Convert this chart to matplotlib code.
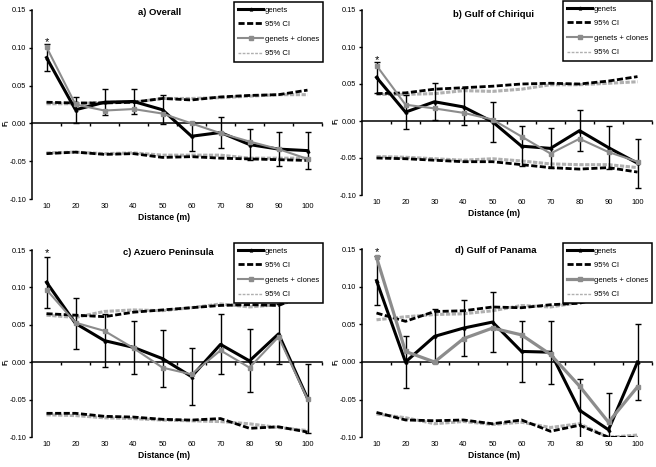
import matplotlib
matplotlib.use("Agg")
import matplotlib.pyplot as plt
from matplotlib.lines import Line2D

plt.rcParams['font.family'] = ['Liberation Sans', 'DejaVu Sans']
plt.rcParams['axes.unicode_minus'] = False
plt.rcParams['mathtext.fontset'] = 'custom'
plt.rcParams['mathtext.rm'] = 'Liberation Sans'
plt.rcParams['mathtext.bf'] = 'Liberation Sans:bold'
plt.rcParams['mathtext.it'] = 'Liberation Sans:italic'

dist = [10, 20, 30, 40, 50, 60, 70, 80, 90, 100]
legend_labels = ["genets", "95% CI", "genets + clones", "95% CI"]

# a) Overall
a_gen = [0.087, 0.018, 0.028, 0.029, 0.018, -0.017, -0.012, -0.028, -0.034, -0.036]
a_err = [0.018, 0.017, 0.017, 0.017, 0.019, 0.019, 0.021, 0.021, 0.022, 0.024]
a_clo = [0.101, 0.025, 0.017, 0.019, 0.013, 0.000, -0.013, -0.024, -0.034, -0.047]
a_ci_gen_hi = [0.028, 0.027, 0.027, 0.028, 0.033, 0.031, 0.035, 0.037, 0.038, 0.044]
a_ci_gen_lo = [-0.040, -0.038, -0.041, -0.040, -0.045, -0.044, -0.046, -0.047, -0.048, -0.049]
a_ci_clo_hi = [0.026, 0.026, 0.028, 0.028, 0.033, 0.033, 0.034, 0.036, 0.038, 0.038]
a_ci_clo_lo = [-0.039, -0.038, -0.040, -0.039, -0.042, -0.042, -0.042, -0.046, -0.046, -0.046]

# b) Gulf of Chiriqui
b_gen = [0.059, 0.012, 0.026, 0.019, -0.001, -0.034, -0.037, -0.013, -0.036, -0.057]
b_err = [0.021, 0.023, 0.025, 0.025, 0.027, 0.027, 0.027, 0.028, 0.029, 0.033]
b_clo = [0.075, 0.022, 0.017, 0.011, 0.002, -0.021, -0.044, -0.024, -0.042, -0.055]
b_ci_gen_hi = [0.037, 0.038, 0.043, 0.045, 0.047, 0.050, 0.051, 0.050, 0.054, 0.060]
b_ci_gen_lo = [-0.050, -0.051, -0.053, -0.055, -0.055, -0.059, -0.063, -0.065, -0.063, -0.069]
b_ci_clo_hi = [0.036, 0.036, 0.037, 0.041, 0.040, 0.043, 0.049, 0.049, 0.051, 0.053]
b_ci_clo_lo = [-0.048, -0.049, -0.051, -0.053, -0.051, -0.054, -0.058, -0.059, -0.059, -0.063]

# c) Azuero Peninsula
c_gen = [0.107, 0.052, 0.029, 0.020, 0.005, -0.019, 0.024, 0.002, 0.038, -0.048]
c_err = [0.034, 0.034, 0.035, 0.035, 0.038, 0.038, 0.040, 0.042, 0.040, 0.046]
c_clo = [0.097, 0.053, 0.042, 0.019, -0.007, -0.016, 0.016, -0.007, 0.034, -0.049]
c_ci_gen_hi = [0.065, 0.063, 0.061, 0.067, 0.070, 0.073, 0.076, 0.077, 0.076, 0.091]
c_ci_gen_lo = [-0.068, -0.068, -0.072, -0.073, -0.076, -0.077, -0.075, -0.088, -0.086, -0.093]
c_ci_clo_hi = [0.063, 0.060, 0.068, 0.070, 0.069, 0.073, 0.078, 0.074, 0.077, 0.087]
c_ci_clo_lo = [-0.070, -0.071, -0.074, -0.075, -0.077, -0.078, -0.079, -0.082, -0.087, -0.091]

# d) Gulf of Panama
d_gen = [0.108, 0.000, 0.034, 0.045, 0.053, 0.014, 0.013, -0.064, -0.090, 0.000]
d_err = [0.033, 0.034, 0.036, 0.037, 0.040, 0.040, 0.042, 0.042, 0.049, 0.050]
d_clo = [0.139, 0.014, 0.000, 0.031, 0.045, 0.036, 0.010, -0.032, -0.080, -0.033]
d_ci_gen_hi = [0.065, 0.054, 0.067, 0.068, 0.073, 0.072, 0.076, 0.078, 0.088, 0.094]
d_ci_gen_lo = [-0.067, -0.077, -0.078, -0.077, -0.082, -0.077, -0.092, -0.084, -0.100, -0.100]
d_ci_clo_hi = [0.056, 0.060, 0.063, 0.064, 0.068, 0.075, 0.073, 0.079, 0.086, 0.093]
d_ci_clo_lo = [-0.069, -0.074, -0.082, -0.079, -0.083, -0.080, -0.087, -0.082, -0.100, -0.097]

titles = ["a) Overall", "b) Gulf of Chiriqui", "c) Azuero Peninsula", "d) Gulf of Panama"]
star_y = [0.108, 0.082, 0.146, 0.146]
ytick_vals = [-0.10, -0.05, 0.0, 0.05, 0.10, 0.15]

panels = [
    (a_gen, a_err, a_clo, a_ci_gen_hi, a_ci_gen_lo, a_ci_clo_hi, a_ci_clo_lo),
    (b_gen, b_err, b_clo, b_ci_gen_hi, b_ci_gen_lo, b_ci_clo_hi, b_ci_clo_lo),
    (c_gen, c_err, c_clo, c_ci_gen_hi, c_ci_gen_lo, c_ci_clo_hi, c_ci_clo_lo),
    (d_gen, d_err, d_clo, d_ci_gen_hi, d_ci_gen_lo, d_ci_clo_hi, d_ci_clo_lo),
]

W, H = 656, 467
fig = plt.figure(figsize=(W / 100, H / 100), dpi=100)

# axes rectangles in pixels: left, top(0.15), right, bottom(-0.10)
rects = [(32, 10, 322, 199), (362, 10, 652, 195), (32, 250, 322, 437.3), (362, 249, 652, 437.3)]
title_pos = [(0.441, 0.985), (0.453, 0.978), (0.469, 0.984), (0.462, 0.99)]
legend_corner = [(323, 2), (652, 1), (323, 243), (652, 243)]

BLACK = '#000000'
GRAY = '#8c8c8c'
LGRAY = '#b0b0b0'

for i, (gen, err, clo, cgh, cgl, cch, ccl) in enumerate(panels):
    l, t, r, b = rects[i]
    ax = fig.add_axes([l / W, 1 - b / H, (r - l) / W, (b - t) / H])
    ax.set_xlim(5, 105)
    ax.set_ylim(-0.10, 0.15)
    clo_lw = 2.3 if i == 3 else 1.5
    hpx = b - t

    # CI lines
    ax.plot(dist, cgh, color=BLACK, lw=2.0, dashes=(2.2, 0.9), zorder=2.1)
    ax.plot(dist, cgl, color=BLACK, lw=2.0, dashes=(2.2, 0.9), zorder=2.1)
    ax.plot(dist, cch, color=LGRAY, lw=2.2, dashes=(1.4, 0.5), zorder=2)
    ax.plot(dist, ccl, color=LGRAY, lw=2.2, dashes=(1.4, 0.5), zorder=2)
    # genets with error bars
    ax.errorbar(dist, gen, yerr=err, color=BLACK, lw=2.2, elinewidth=1.0,
                capsize=2.0, capthick=1.0, marker='^', ms=2.0, zorder=3)
    # genets + clones
    ax.plot(dist, clo, color=GRAY, lw=clo_lw, marker='s', ms=3.0, zorder=4)

    # spines and axes
    for s in ['top', 'right']:
        ax.spines[s].set_visible(False)
    ax.spines['left'].set_linewidth(1.1)
    ax.spines['bottom'].set_position(('data', 0))
    ax.spines['bottom'].set_linewidth(1.1)
    ax.set_xticks([15, 25, 35, 45, 55, 65, 75, 85, 95, 105])
    ax.set_xticklabels([])
    ax.tick_params(axis='x', direction='out', length=2.5, width=1.0)
    ax.set_yticks(ytick_vals)
    ax.set_yticklabels(['%.2f' % v for v in ytick_vals])
    ax.tick_params(axis='y', direction='out', length=2.5, width=1.0, labelsize=5.3, pad=1.5)
    ax.text(-25 / 290, 0.4, r'$\mathbf{F_i}$', transform=ax.transAxes, rotation=90,
            ha='center', va='center', fontsize=5.5)

    sec = ax.secondary_xaxis(0)
    sec.spines['bottom'].set_visible(False)
    sec.set_xticks(dist)
    sec.set_xticklabels([str(d) for d in dist])
    sec.tick_params(axis='x', length=0, labelsize=5.5, pad=3)
    ax.text(0.455, -18.5 / hpx, 'Distance (m)', transform=ax.transAxes,
            ha='center', va='center', fontsize=6.2, fontweight='bold')

    ax.text(title_pos[i][0], title_pos[i][1], titles[i], transform=ax.transAxes,
            ha='center', va='center', fontsize=6.8, fontweight='bold')
    ax.text(dist[0], star_y[i], '*', ha='center', va='center', fontsize=8)

    handles = [
        Line2D([], [], color=BLACK, lw=2.2, marker='^', ms=2.0),
        Line2D([], [], color=BLACK, lw=2.0, dashes=(2.2, 0.9)),
        Line2D([], [], color=GRAY, lw=clo_lw, marker='s', ms=3.0),
        Line2D([], [], color=LGRAY, lw=1.0, dashes=(2.0, 1.0)),
    ]
    lx, ly = legend_corner[i]
    leg = fig.legend(handles, legend_labels, loc='upper right',
                     bbox_to_anchor=(lx / W, 1 - ly / H), bbox_transform=fig.transFigure,
                     fontsize=5.5, frameon=True, fancybox=False, borderaxespad=0,
                     handlelength=3.3, handletextpad=0.15, labelspacing=0.95,
                     borderpad=0.55)
    leg.get_frame().set_edgecolor('black')
    leg.get_frame().set_linewidth(1.1)
    leg.get_frame().set_alpha(None)
    leg.get_frame().set_facecolor('white')

fig.savefig('out.png', dpi=100)
